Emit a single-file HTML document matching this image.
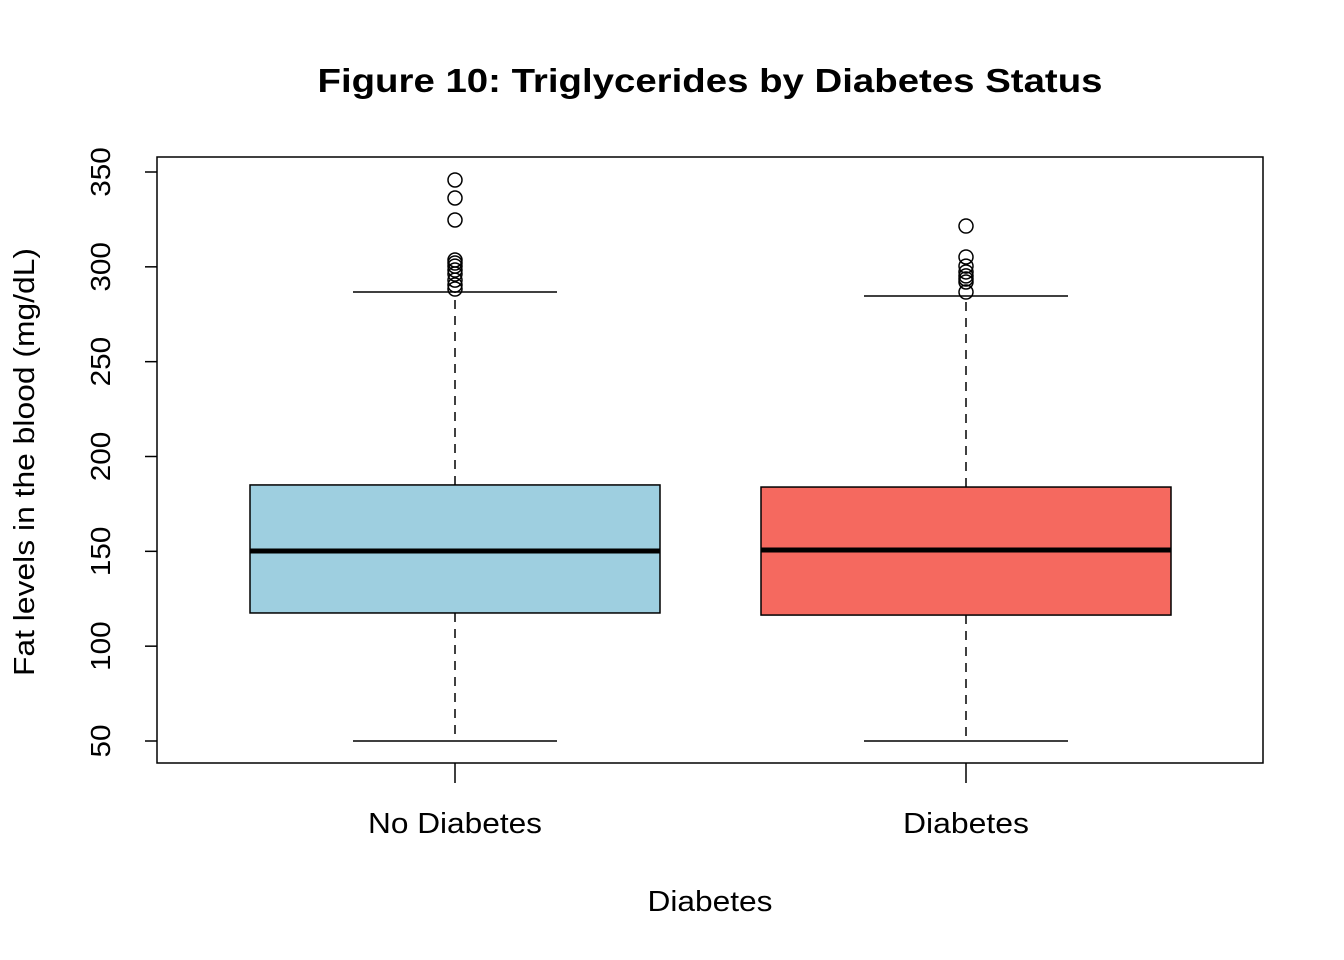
<!DOCTYPE html>
<html><head><meta charset="utf-8"><style>body{margin:0;background:#fff}svg{display:block;font-family:"Liberation Sans",Arial,sans-serif}</style></head>
<body>
<svg id="chart" width="1344" height="960">
<rect width="1344" height="960" fill="#fff"/>
<text x="710" y="92" text-anchor="middle" font-size="33" font-weight="bold" textLength="785" lengthAdjust="spacingAndGlyphs">Figure 10: Triglycerides by Diabetes Status</text>
<text x="710" y="911" text-anchor="middle" font-size="29" textLength="125" lengthAdjust="spacingAndGlyphs">Diabetes</text>
<text transform="translate(34,462) rotate(-90)" text-anchor="middle" font-size="29" textLength="428" lengthAdjust="spacingAndGlyphs">Fat levels in the blood (mg/dL)</text>
<rect x="157" y="157" width="1106" height="606" fill="none" stroke="#000" stroke-width="1.5"/>
<g id="marks"></g>
</svg>
<script>
const categories = ["No Diabetes", "Diabetes"];
const catWidths = [174, 126];
const colors = ["#9ecfe0", "#f5695f"];
const lowerWhisker = [50, 50];
const q1 = [117.5, 116.4];
const median = [150.2, 150.7];
const q3 = [185, 183.9];
const upperWhisker = [286.7, 284.6];
const outliersNo = [345.8, 336.3, 324.7, 303.6, 302, 300.4, 298.3, 296.2, 293, 290.4, 288.3];
const outliersYes = [321.5, 305.2, 300.4, 297.3, 295.2, 293.6, 292, 286.7];
const yTicks = [50, 100, 150, 200, 250, 300, 350];

const NS = "http://www.w3.org/2000/svg";
const y = v => 741 - (v - 50) * (569 / 300);
const x = i => 455 + i * 511;
const g = document.getElementById('marks');
function mk(tag, at) { const e = document.createElementNS(NS, tag); for (const k in at) e.setAttribute(k, at[k]); g.appendChild(e); return e; }

yTicks.forEach(t => {
  const l = mk('line', {x1: 145, x2: 157, y1: y(t), y2: y(t), stroke: '#000', 'stroke-width': 1.5});
  
  
  const tx = mk('text', {transform: `translate(110,${y(t)}) rotate(-90)`, 'text-anchor': 'middle', 'font-size': 28, textLength: String(t).length * 16.5, lengthAdjust: 'spacingAndGlyphs'});
  tx.textContent = t;
  
  
});

const outs = [outliersNo, outliersYes];
categories.forEach((c, i) => {
  const cx = x(i);
  const tk = mk('line', {x1: cx, x2: cx, y1: 763, y2: 783, stroke: '#000', 'stroke-width': 1.5});
  
  
  const lb = mk('text', {x: cx, y: 833, 'text-anchor': 'middle', 'font-size': 29, textLength: catWidths[i], lengthAdjust: 'spacingAndGlyphs'});
  lb.textContent = c;
  
  
  const w1 = mk('line', {x1: cx, x2: cx, y1: y(q3[i]), y2: y(upperWhisker[i]), stroke: '#000', 'stroke-width': 1.5, 'stroke-dasharray': '9,7'});
  
  
  const w2 = mk('line', {x1: cx, x2: cx, y1: y(q1[i]), y2: y(lowerWhisker[i]), stroke: '#000', 'stroke-width': 1.5, 'stroke-dasharray': '9,7'});
  
  
  const c1 = mk('line', {x1: cx - 102, x2: cx + 102, y1: y(upperWhisker[i]), y2: y(upperWhisker[i]), stroke: '#000', 'stroke-width': 1.5});
  
  
  const c2 = mk('line', {x1: cx - 102, x2: cx + 102, y1: y(lowerWhisker[i]), y2: y(lowerWhisker[i]), stroke: '#000', 'stroke-width': 1.5});
  
  
  const b = mk('rect', {x: cx - 205, width: 410, y: y(q3[i]), height: y(q1[i]) - y(q3[i]), fill: colors[i], stroke: '#000', 'stroke-width': 1.5});
  
  
  const m = mk('line', {x1: cx - 205, x2: cx + 205, y1: y(median[i]), y2: y(median[i]), stroke: '#000', 'stroke-width': 5});
  
  
  outs[i].forEach(v => {
    const o = mk('circle', {cx: cx, cy: y(v), r: 7, fill: 'none', stroke: '#000', 'stroke-width': 1.5});
    
    
  });
});
</script>
</body></html>
